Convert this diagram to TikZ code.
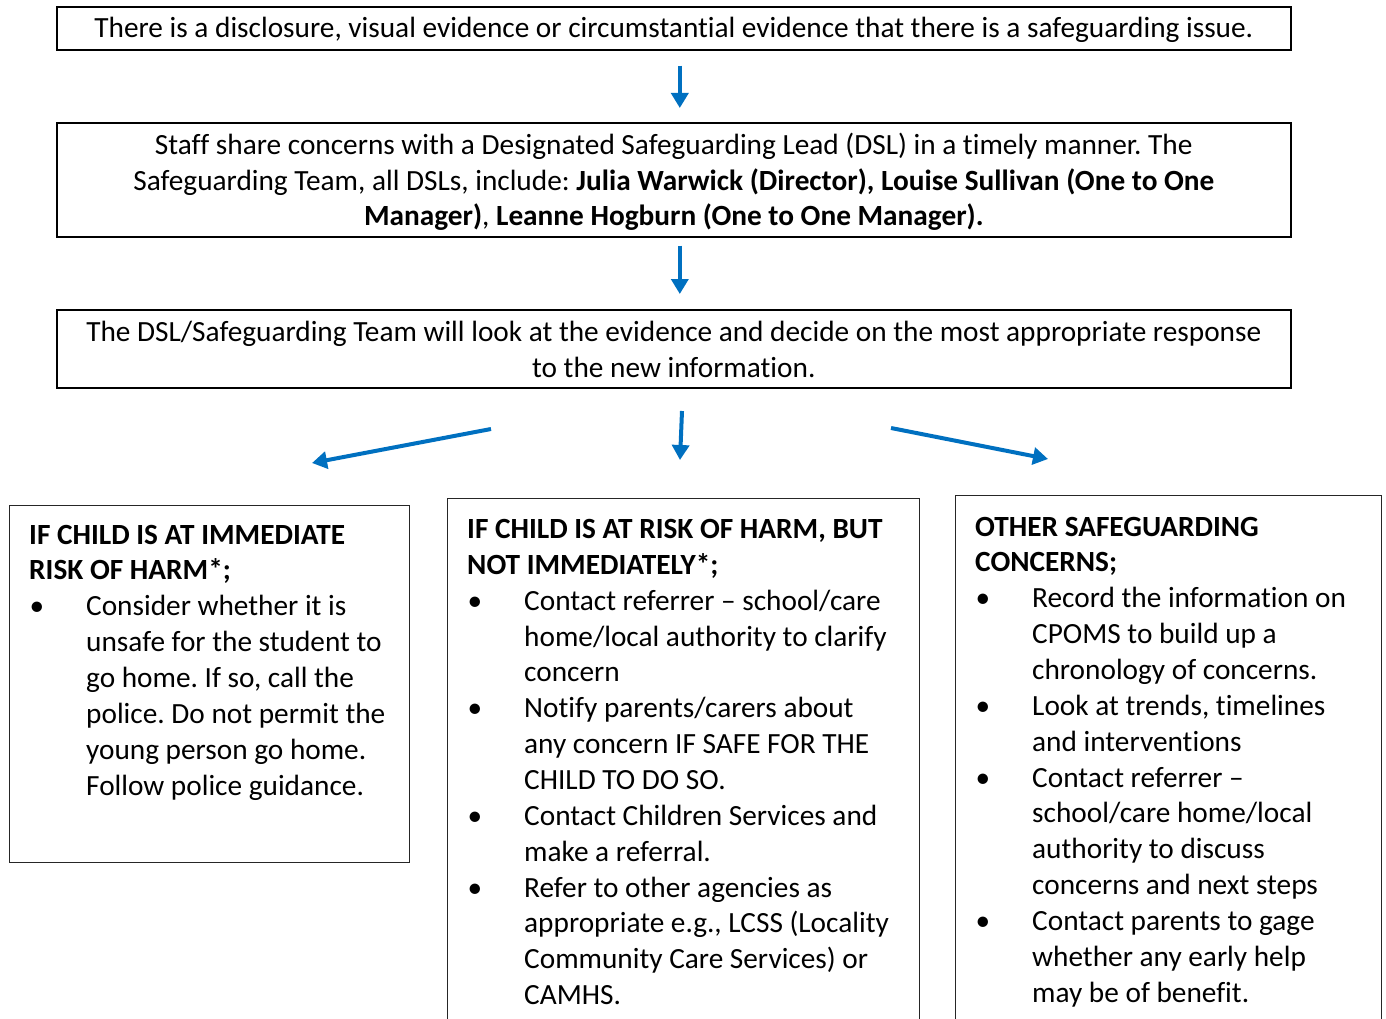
\documentclass[tikz,border=0pt]{standalone}
\usepackage{fontspec}
\setmainfont{Carlito}[Ligatures=NoCommon]
\usetikzlibrary{arrows.meta}
\definecolor{arrowblue}{HTML}{0070C0}
\newcommand{\diagfont}{\fontsize{29.3}{35.85}\selectfont\parindent=0pt\parskip=0pt\frenchspacing}
\newcommand{\raggedfix}{\rightskip=0pt plus 1fil\spaceskip=0pt\xspaceskip=0pt\relax}
\newcommand{\lowline}[2]{\raisebox{-#1}[\height][\depth]{#2}}
\newcommand{\bpt}[1]{\par\noindent\hangindent=57pt\hangafter=1\makebox[57pt][l]{\hspace{0.5pt}•}#1\par}
\tikzset{
  topbox/.style={draw=black, line width=1.6pt, anchor=north west, inner sep=0pt, align=center, font=\diagfont},
  lowbox/.style={draw=black!85, line width=1.1pt, anchor=north west, inner sep=0pt},
  bodytext/.style={anchor=north west, inner sep=0pt, align=left, text width=#1, font=\diagfont},
  flow/.style={draw=arrowblue, line width=4pt, -{Triangle[width=17pt,length=15pt]}},
}
\begin{document}
\begin{tikzpicture}[x=1pt,y=-1pt]
\useasboundingbox (0,0) rectangle (1386,1019);
% top boxes
\node[topbox, minimum width=1234pt, minimum height=43pt] (b1) at (56,6)
  {\lowline{2pt}{There is a disclosure, visual evidence or circumstantial evidence that there is a safeguarding issue.}};
\node[topbox, minimum width=1234pt, minimum height=114pt] (b2) at (56,122)
  {\lowline{2pt}{Staff share concerns with a Designated Safeguarding Lead (DSL) in a timely manner. The}\\
   \lowline{2pt}{Safeguarding Team, all DSLs, include: \textbf{Julia Warwick (Director), Louise Sullivan (One to One}}\\
   \lowline{2pt}{\textbf{Manager)}, \textbf{Leanne Hogburn (One to One Manager).}}};
\node[topbox, minimum width=1234pt, minimum height=78pt] (b3) at (56,309)
  {\lowline{1pt}{The DSL/Safeguarding Team will look at the evidence and decide on the most appropriate response}\\
   \lowline{1pt}{to the new information.}};
% arrows
\draw[flow, shorten <=15pt, shorten >=14pt] ([xshift=6pt]b1.south) -- ([xshift=6pt]b2.north);
\draw[flow, shorten <=8pt, shorten >=15pt] ([xshift=6pt]b2.south) -- ([xshift=6pt]b3.north);
\coordinate (ls) at (491,429); \coordinate (le) at (312,463);
\coordinate (ms) at (682,411); \coordinate (me) at (680,460);
\coordinate (rs) at (891,428); \coordinate (re) at (1048,459);
\draw[flow] (ls) -- (le);
\draw[flow] (ms) -- (me);
\draw[flow] (rs) -- (re);
% lower boxes
\begin{scope}
\clip (0,0) rectangle (1386,1019);
\node[lowbox, minimum width=400pt, minimum height=357pt] (bl) at (9,505) {};
\node[lowbox, minimum width=472pt, minimum height=560pt] (bm) at (447,498) {};
\node[lowbox, minimum width=426pt, minimum height=560pt] (br) at (955,495) {};
\end{scope}
\node[bodytext=400pt] (tl) at (29,518.8) {\raggedfix\strut\textbf{IF CHILD IS AT IMMEDIATE}\newline\textbf{RISK OF HARM*;}\par
  \bpt{Consider whether it is\newline unsafe for the student to\newline go home. If so, call the\newline police. Do not permit the\newline young person go home.\newline Follow police guidance.}};
\node[bodytext=470pt] (tm) at (467,513.3) {\raggedfix\strut\textbf{IF CHILD IS AT RISK OF HARM, BUT}\newline\textbf{NOT IMMEDIATELY*;}\par
  \bpt{Contact referrer – school/care\newline home/local authority to clarify\newline concern}
  \bpt{Notify parents/carers about\newline any concern IF SAFE FOR THE\newline CHILD TO DO SO.}
  \bpt{Contact Children Services and\newline make a referral.}
  \bpt{Refer to other agencies as\newline appropriate e.g., LCSS (Locality\newline Community Care Services) or\newline CAMHS.}};
\node[bodytext=410pt] (tr) at (975,510.8) {\raggedfix\strut\textbf{OTHER SAFEGUARDING}\newline\textbf{CONCERNS;}\par
  \bpt{Record the information on\newline CPOMS to build up a\newline chronology of concerns.}
  \bpt{Look at trends, timelines\newline and interventions}
  \bpt{Contact referrer –\newline school/care home/local\newline authority to discuss\newline concerns and next steps}
  \bpt{Contact parents to gage\newline whether any early help\newline may be of benefit.}};
\end{tikzpicture}
\end{document}
